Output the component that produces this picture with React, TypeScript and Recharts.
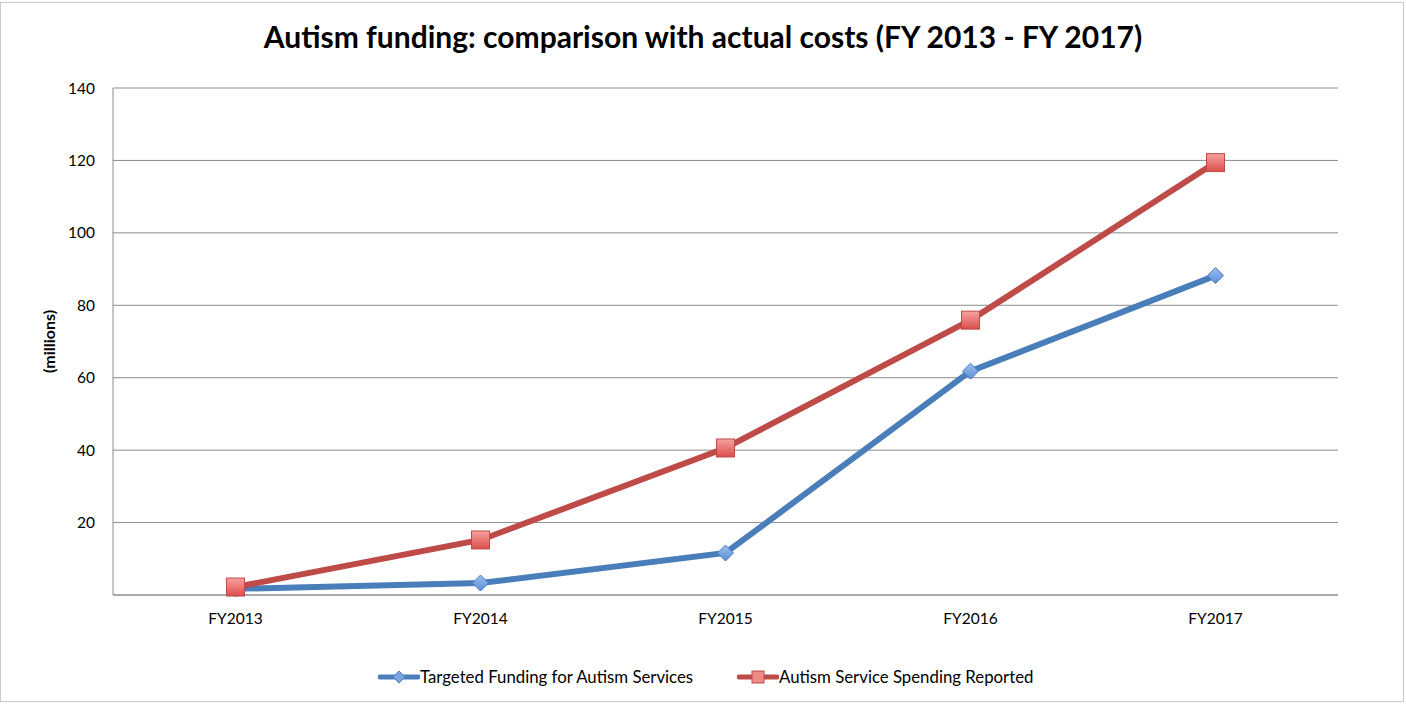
import React from 'react'
import { LineChart, Line, XAxis, YAxis, CartesianGrid, Label } from 'recharts'

const years = ['FY2013', 'FY2014', 'FY2015', 'FY2016', 'FY2017']
const targetedFunding = [1.7, 3.3, 11.6, 61.8, 88.2]
const spendingReported = [2.2, 15.2, 40.6, 75.9, 119.4]
const yTicks = [0, 20, 40, 60, 80, 100, 120, 140]

const data = years.map((year, i) => ({
  year,
  targeted: targetedFunding[i],
  spending: spendingReported[i],
}))

const FONT = 'Lato, "Open Sans", sans-serif'

const Diamond = (props: any) => {
  const { cx, cy } = props
  if (cx == null || cy == null) return null
  const r = 8
  return (
    <polygon
      points={`${cx},${cy - r} ${cx + r},${cy} ${cx},${cy + r} ${cx - r},${cy}`}
      fill="url(#blueMarker)"
      stroke="#4a7ebb"
      strokeWidth={1}
    />
  )
}

const Square = (props: any) => {
  const { cx, cy } = props
  if (cx == null || cy == null) return null
  const s = 9
  return (
    <rect x={cx - s} y={cy - s} width={s * 2} height={s * 2} fill="url(#redMarker)" stroke="#be4b48" strokeWidth={1} />
  )
}

const ChartLegend = () => (
  <div style={{ position: 'absolute', left: 0, top: 665, width: 1406, height: 24, fontFamily: FONT, fontSize: 16.8, color: '#000' }}>
    <svg width={42} height={24} style={{ position: 'absolute', left: 378, top: 0 }}>
      <line x1={2} y1={12} x2={40} y2={12} stroke="#4a7ebb" strokeWidth={5} strokeLinecap="round" />
      <polygon points="21,6 27,12 21,18 15,12" fill="#7aa5e2" stroke="#4a7ebb" />
    </svg>
    <span style={{ position: 'absolute', left: 420, top: 1, whiteSpace: 'nowrap' }}>Targeted Funding for Autism Services</span>
    <svg width={42} height={24} style={{ position: 'absolute', left: 737, top: 0 }}>
      <line x1={2} y1={12} x2={40} y2={12} stroke="#be4b48" strokeWidth={5} strokeLinecap="round" />
      <rect x={15} y={6} width={12} height={12} fill="#f08a87" stroke="#be4b48" />
    </svg>
    <span style={{ position: 'absolute', left: 779, top: 1, whiteSpace: 'nowrap' }}>Autism Service Spending Reported</span>
  </div>
)

export default function App() {
  return (
    <div style={{ position: 'absolute', left: 0, top: 0, width: 1406, height: 704, background: '#fff' }}>
      <div
        style={{
          position: 'absolute',
          left: 0,
          top: 2,
          width: 1404,
          height: 700,
          border: '1px solid #c8c8c8',
          boxSizing: 'border-box',
        }}
      />
      <div
        style={{
          position: 'absolute',
          left: 0,
          top: 18,
          width: 1406,
          textAlign: 'center',
          fontFamily: FONT,
          fontWeight: 'bold',
          fontSize: 30,
          color: '#000',
        }}
      >
        Autism funding: comparison with actual costs (FY 2013 - FY 2017)
      </div>
      <LineChart
        width={1406}
        height={704}
        data={data}
        margin={{ top: 88, right: 68, bottom: 79, left: 53 }}
        style={{ position: 'absolute', left: 0, top: 0 }}
      >
        <defs>
          <linearGradient id="blueMarker" x1="0" y1="0" x2="0" y2="1">
            <stop offset="0%" stopColor="#9dbff0" />
            <stop offset="100%" stopColor="#5b8fd8" />
          </linearGradient>
          <linearGradient id="redMarker" x1="0" y1="0" x2="0" y2="1">
            <stop offset="0%" stopColor="#f7a3a0" />
            <stop offset="100%" stopColor="#dc4d4a" />
          </linearGradient>
        </defs>
        <CartesianGrid vertical={false} stroke="#8c8c8c" strokeWidth={1} />
        <XAxis
          dataKey="year"
          stroke="#8c8c8c"
          tickLine={false}
          height={30}
          padding={{ left: 122.5, right: 122.5 }}
          tick={{ fill: '#000', fontFamily: FONT, fontSize: 15.5 }}
          tickMargin={12}
        />
        <YAxis
          domain={[0, 140]}
          ticks={yTicks}
          stroke="#8c8c8c"
          tickLine={false}
          width={60}
          tickFormatter={(v: number) => (v === 0 ? '' : String(v))}
          tick={{ fill: '#000', fontFamily: FONT, fontSize: 15.5 }}
          tickMargin={12}
        >
          <Label
            value="(millions)"
            angle={-90}
            position="insideLeft"
            offset={-4}
            style={{ fontFamily: FONT, fontWeight: 'bold', fontSize: 16, fill: '#000', textAnchor: 'middle' }}
          />
        </YAxis>
        <Line
          dataKey="targeted"
          name="Targeted Funding for Autism Services"
          stroke="#4a7ebb"
          strokeWidth={6}
          dot={<Diamond />}
          activeDot={false}
          isAnimationActive={false}
        />
        <Line
          dataKey="spending"
          name="Autism Service Spending Reported"
          stroke="#be4b48"
          strokeWidth={6}
          dot={<Square />}
          activeDot={false}
          isAnimationActive={false}
        />
      </LineChart>
      <ChartLegend />
    </div>
  )
}
